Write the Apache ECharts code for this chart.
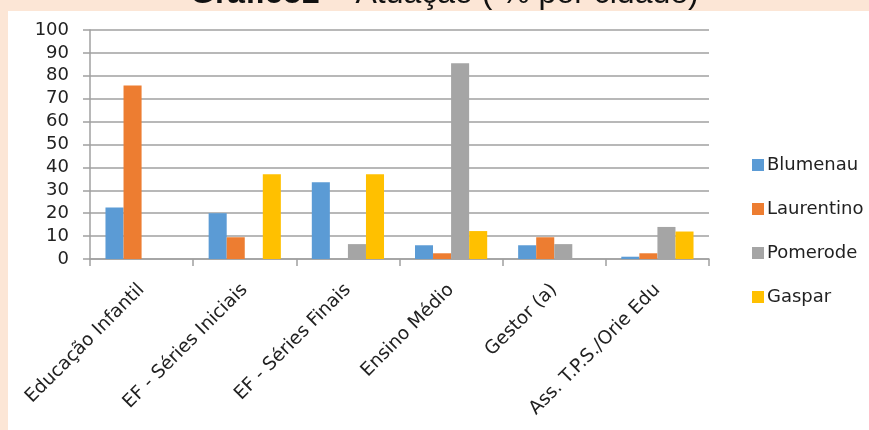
<!DOCTYPE html>
<html>
<head>
<meta charset="utf-8">
<script src="https://cdn.jsdelivr.net/npm/echarts@6/dist/echarts.min.js"></script>
<style>
html,body{margin:0;padding:0;background:#FCE6D6;}
#c{width:869px;height:430px;}
</style>
</head>
<body>
<div id="c"></div>
<script>
var categories = ['Educação Infantil', 'EF - Séries Iniciais', 'EF - Séries Finais', 'Ensino Médio', 'Gestor (a)', 'Ass. T.P.S./Orie Edu'];
var blumenau   = [22.5, 20, 33.5, 6, 6, 1];
var laurentino = [75.8, 9.5, 0, 2.5, 9.5, 2.5];
var pomerode   = [0, 0, 6.5, 85.5, 6.5, 14];
var gaspar     = [0, 37, 37, 12.2, 0, 12];
var yTicks = { min: 0, max: 100, interval: 10 };

var font = 'DejaVu Sans';
var chart = echarts.init(document.getElementById('c'));
function bar(name, data, color) {
  return { name: name, type: 'bar', data: data, barGap: '0%', barCategoryGap: '30%',
           itemStyle: { color: color }, emphasis: { disabled: true } };
}
chart.setOption({
  backgroundColor: '#FCE6D6',
  animation: false,
  graphic: [{
    type: 'rect', left: 8, top: 11, z: -10,
    shape: { width: 861, height: 419 },
    style: { fill: '#ffffff' }
  }],
  title: {
    left: 190, top: -22, padding: 0,
    text: '{b|Gráfico2} – Atuação ( % por cidade)',
    textStyle: {
      fontFamily: 'Liberation Sans', fontSize: 32, fontWeight: 'normal', color: '#111',
      rich: { b: { fontFamily: 'Liberation Sans', fontSize: 32, fontWeight: 'bold', color: '#111' } }
    }
  },
  legend: {
    orient: 'vertical', left: 747, top: 151,
    itemWidth: 12, itemHeight: 12, itemGap: 26,
    icon: 'rect',
    textStyle: { fontFamily: font, fontSize: 18, color: '#222', padding: [0, 0, 0, -2] },
    data: ['Blumenau', 'Laurentino', 'Pomerode', 'Gaspar']
  },
  grid: { left: 90, right: 160, top: 30, bottom: 171, containLabel: false },
  xAxis: {
    type: 'category', data: categories, boundaryGap: true,
    axisLine: { lineStyle: { color: '#A0A0A0', width: 1.5 } },
    axisTick: { show: true, length: 7, lineStyle: { color: '#A0A0A0', width: 1.5 } },
    axisLabel: { interval: 0, rotate: 45, margin: 28, fontFamily: font, fontSize: 18.5, color: '#222' },
    splitLine: { show: false }
  },
  yAxis: {
    type: 'value', min: yTicks.min, max: yTicks.max, interval: yTicks.interval,
    axisLine: { show: true, lineStyle: { color: '#A0A0A0', width: 1.5 } },
    axisTick: { show: true, length: 7, lineStyle: { color: '#A0A0A0', width: 1.5 } },
    axisLabel: { margin: 21, fontFamily: font, fontSize: 18, color: '#222' },
    splitLine: { lineStyle: { color: '#A0A0A0', width: 1.5 } }
  },
  series: [
    bar('Blumenau', blumenau, '#5B9BD5'),
    bar('Laurentino', laurentino, '#ED7D31'),
    bar('Pomerode', pomerode, '#A5A5A5'),
    bar('Gaspar', gaspar, '#FFC000')
  ]
});
</script>
</body>
</html>
